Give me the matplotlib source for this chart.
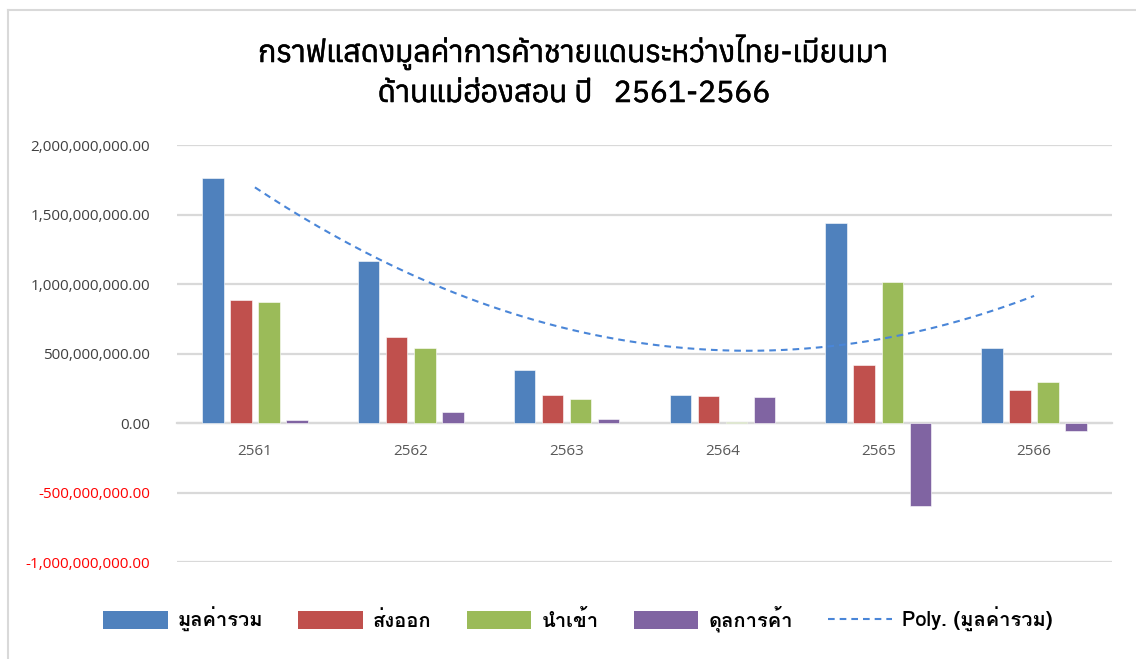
import matplotlib
matplotlib.use("Agg")
import matplotlib.pyplot as plt
import matplotlib.patheffects as pe
import numpy as np
from matplotlib.lines import Line2D
from matplotlib.patches import Patch
from matplotlib.ticker import FuncFormatter

years = ["2561", "2562", "2563", "2564", "2565", "2566"]
total = [1.760e9, 1.166e9, 0.378e9, 0.203e9, 1.437e9, 0.539e9]
export = [0.888e9, 0.620e9, 0.198e9, 0.194e9, 0.419e9, 0.239e9]
imports = [0.869e9, 0.541e9, 0.172e9, 0.009e9, 1.015e9, 0.295e9]
balance = [0.019e9, 0.079e9, 0.026e9, 0.185e9, -0.596e9, -0.056e9]
series_names = ["มูลค่ารวม", "ส่งออก", "นำเข้า", "ดุลการค้า"]
trend_name = "Poly. (มูลค่ารวม)"
title_lines = ["กราฟแสดงมูลค่าการค้าชายแดนระหว่างไทย-เมียนมา", "ด้านแม่ฮ่องสอน ปี   2561-2566"]

colors = ["#4F81BD", "#C0504D", "#9BBB59", "#8064A2"]
TITLE_FONT = ["Anuphan", "DejaVu Sans"]
LEG_FONT = ["Loma", "Noto Sans Thai Looped", "DejaVu Sans"]
TICK_FONT = ["Open Sans", "DejaVu Sans"]

fig = plt.figure(figsize=(11.36, 6.59), dpi=100)
W, H = 1136, 659
ax = fig.add_axes([177 / W, 1 - 562 / H, (1112 - 177) / W, (562 - 145) / H])

x = np.arange(len(years))
bw = 0.138
offsets = [-0.27, -0.09, 0.09, 0.27]
for vals, c, off in zip([total, export, imports, balance], colors, offsets):
    ax.bar(x + off, vals, width=bw, color=c, edgecolor="white", linewidth=0.4, zorder=3)

# polynomial (order 2) trendline of total
coef = np.polyfit(x, total, 2)
xs = np.linspace(0, len(years) - 1, 200)
ax.plot(xs, np.polyval(coef, xs), color="#4A86D8", linestyle=(0, (3.2, 2.4)), linewidth=1.5, zorder=4)

ax.set_xlim(-0.5, len(years) - 0.5)
ax.set_ylim(-1e9, 2e9)
ax.set_yticks(np.arange(-1e9, 2.01e9, 5e8))
ax.yaxis.set_major_formatter(FuncFormatter(lambda v, p: f"{v:,.2f}"))
ax.grid(axis="y", color="#D9D9D9", linewidth=1.6, zorder=0)
ax.set_axisbelow(True)
for s in ["top", "right", "left"]:
    ax.spines[s].set_visible(False)
ax.spines["bottom"].set_position(("data", 0))
ax.spines["bottom"].set_color("#D9D9D9")
ax.spines["bottom"].set_linewidth(1.6)
ax.spines["bottom"].set_zorder(2)
ax.set_xticks(x)
ax.set_xticklabels(years)
ax.tick_params(axis="x", length=0, pad=15, labelsize=11, labelcolor="#595959")
ax.tick_params(axis="y", length=0, pad=19.5, labelsize=11, labelcolor="#404040")
for lab in ax.get_xticklabels() + ax.get_yticklabels():
    lab.set_family(TICK_FONT)
for lab, v in zip(ax.get_yticklabels(), ax.get_yticks()):
    if v < 0:
        lab.set_color("#FF0000")

# titles
thick = [pe.withStroke(linewidth=0.4, foreground="#000000")]
fig.text(573 / W, 1 - 52 / H, title_lines[0], ha="center", va="center", fontsize=21.7,
         family=TITLE_FONT, color="#000000", path_effects=thick)
fig.text(574 / W, 1 - 94 / H, title_lines[1], ha="center", va="center", fontsize=21.7,
         family=TITLE_FONT, color="#000000", path_effects=thick)

# legend
handles = [Patch(facecolor=c, edgecolor="none") for c in colors]
handles.append(Line2D([0], [0], color="#4A86D8", linestyle=(0, (3.2, 2.4)), linewidth=1.5))
leg = fig.legend(handles, series_names + [trend_name], loc="center", bbox_to_anchor=(578 / W, 1 - 619 / H),
                 ncol=5, frameon=False, prop={"family": LEG_FONT, "size": 14.5, "weight": "bold"},
                 handlelength=3.2, handleheight=0.95, handletextpad=0.5, columnspacing=1.75)

# outer chart border (partially visible)
fig.add_artist(Line2D([7.5 / W, 7.5 / W], [0, 1 - 10 / H], transform=fig.transFigure, color="#D9D9D9", linewidth=1.5))
fig.add_artist(Line2D([7.5 / W, 1], [1 - 10 / H, 1 - 10 / H], transform=fig.transFigure, color="#D9D9D9", linewidth=1.5))

fig.savefig("out.png", dpi=100)
